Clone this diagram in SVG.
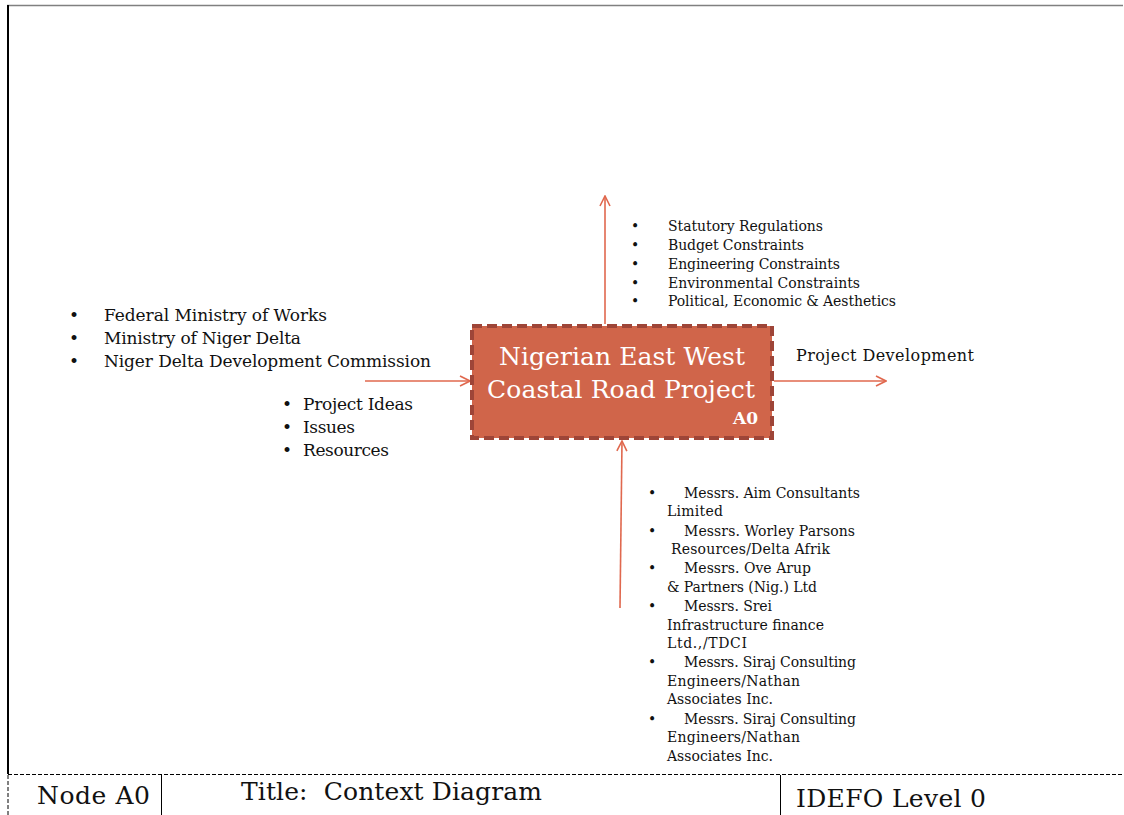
<svg xmlns="http://www.w3.org/2000/svg" width="1124" height="815" viewBox="0 0 1124 815">
<defs>
<style>
.t{font-family:"DejaVu Serif","Liberation Serif",serif;fill:#111}
.l{font-size:17px}
.s{font-size:14px}
.c{stroke:#E0684E;stroke-width:1.6;fill:none}
</style>
<marker id="ah" viewBox="0 0 12 12" refX="11" refY="6" markerWidth="12" markerHeight="12" markerUnits="userSpaceOnUse" orient="auto">
<path d="M1,1 L11,6 L1,11" fill="none" stroke="#E0684E" stroke-width="1.6"/>
</marker>
</defs>
<rect width="1124" height="815" fill="#fff"/>
<g id="frame">
<line x1="7" y1="5.5" x2="1123" y2="5.5" stroke="#808080" stroke-width="1.5"/>
<line x1="8" y1="5" x2="8" y2="774" stroke="#000" stroke-width="2"/>
<line x1="8" y1="774.5" x2="1124" y2="774.5" stroke="#000" stroke-width="1" stroke-dasharray="4,2"/>
<line x1="8" y1="775" x2="8" y2="815" stroke="#000" stroke-width="1" stroke-dasharray="4,2"/>
<line x1="161.5" y1="775" x2="161.5" y2="815" stroke="#000" stroke-width="1"/>
<line x1="780.5" y1="775" x2="780.5" y2="815" stroke="#000" stroke-width="1"/>
<text class="t" x="37" y="804" font-size="25" textLength="113">Node A0</text>
<text class="t" x="241" y="800" font-size="25" textLength="301" xml:space="preserve">Title:  Context Diagram</text>
<text class="t" x="796" y="807" font-size="25" textLength="190">IDEFO Level 0</text>
</g>
<g id="connectors">
<line class="c" x1="605" y1="324" x2="605" y2="196" marker-end="url(#ah)"/>
<line class="c" x1="365" y1="381" x2="470" y2="381" marker-end="url(#ah)"/>
<line class="c" x1="774" y1="381" x2="886" y2="381" marker-end="url(#ah)"/>
<line class="c" x1="620" y1="608" x2="622" y2="441" marker-end="url(#ah)"/>
</g>
<g id="node-a0">
<rect x="472" y="326" width="300" height="112" fill="#D0654A" stroke="#9E4538" stroke-width="4" stroke-dasharray="10,5"/>
<text x="622" y="365" font-family="DejaVu Serif,Liberation Serif,serif" font-size="25" fill="#fff" text-anchor="middle" textLength="246">Nigerian East West</text>
<text x="621" y="398" font-family="DejaVu Serif,Liberation Serif,serif" font-size="25" fill="#fff" text-anchor="middle" textLength="268">Coastal Road Project</text>
<text x="758" y="424" font-family="DejaVu Serif,Liberation Serif,serif" font-size="17" font-weight="bold" fill="#fff" text-anchor="end">A0</text>
</g>
<g id="inputs-agencies">
<text class="t l" x="69" y="321">•</text><text class="t l" x="104" y="321" textLength="223">Federal Ministry of Works</text>
<text class="t l" x="69" y="344">•</text><text class="t l" x="104" y="344" textLength="197">Ministry of Niger Delta</text>
<text class="t l" x="69" y="367">•</text><text class="t l" x="104" y="367" textLength="327">Niger Delta Development Commission</text>
</g>
<g id="inputs-items">
<text class="t l" x="282" y="410">•</text><text class="t l" x="303" y="410" textLength="110">Project Ideas</text>
<text class="t l" x="282" y="433">•</text><text class="t l" x="303" y="433" textLength="52">Issues</text>
<text class="t l" x="282" y="456">•</text><text class="t l" x="303" y="456" textLength="86">Resources</text>
</g>
<g id="controls">
<text class="t s" x="631" y="231">•</text><text class="t s" x="668" y="231" textLength="155">Statutory Regulations</text>
<text class="t s" x="631" y="250">•</text><text class="t s" x="668" y="250" textLength="136">Budget Constraints</text>
<text class="t s" x="631" y="269">•</text><text class="t s" x="668" y="269" textLength="172">Engineering Constraints</text>
<text class="t s" x="631" y="288">•</text><text class="t s" x="668" y="288" textLength="192">Environmental Constraints</text>
<text class="t s" x="631" y="306">•</text><text class="t s" x="668" y="306" textLength="228">Political, Economic &amp; Aesthetics</text>
</g>
<g id="output">
<text class="t" x="796" y="361" font-size="16" textLength="178">Project Development</text>
</g>
<g id="mechanisms">
<text class="t s" x="648" y="498">•</text><text class="t s" x="684" y="498" textLength="176">Messrs. Aim Consultants</text>
<text class="t s" x="667" y="516" textLength="56">Limited</text>
<text class="t s" x="648" y="536">•</text><text class="t s" x="684" y="536" textLength="171">Messrs. Worley Parsons</text>
<text class="t s" x="671" y="554" textLength="159">Resources/Delta Afrik</text>
<text class="t s" x="648" y="573">•</text><text class="t s" x="684" y="573" textLength="127">Messrs. Ove Arup</text>
<text class="t s" x="667" y="592" textLength="150">&amp; Partners (Nig.) Ltd</text>
<text class="t s" x="648" y="611">•</text><text class="t s" x="684" y="611" textLength="88">Messrs. Srei</text>
<text class="t s" x="667" y="630" textLength="157">Infrastructure finance</text>
<text class="t s" x="667" y="648" textLength="80">Ltd.,/TDCI</text>
<text class="t s" x="648" y="667">•</text><text class="t s" x="684" y="667" textLength="172">Messrs. Siraj Consulting</text>
<text class="t s" x="667" y="686" textLength="133">Engineers/Nathan</text>
<text class="t s" x="667" y="704" textLength="106">Associates Inc.</text>
<text class="t s" x="648" y="724">•</text><text class="t s" x="684" y="724" textLength="172">Messrs. Siraj Consulting</text>
<text class="t s" x="667" y="742" textLength="133">Engineers/Nathan</text>
<text class="t s" x="667" y="761" textLength="106">Associates Inc.</text>
</g>
</svg>
